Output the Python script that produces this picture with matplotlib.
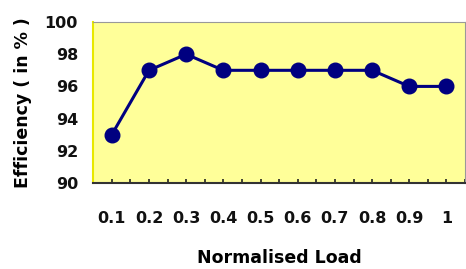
import matplotlib
matplotlib.use("Agg")
import matplotlib.pyplot as plt
import numpy as np

# data
loads = ["0.1", "0.2", "0.3", "0.4", "0.5", "0.6", "0.7", "0.8", "0.9", "1"]
efficiency = [93, 97, 98, 97, 97, 97, 97, 97, 96, 96]
y_ticks = [90, 92, 94, 96, 98, 100]

fig = plt.figure(figsize=(4.66, 2.69), dpi=100)
ax = fig.add_axes([0.2, 0.32, 0.798, 0.598])
ax.set_facecolor("#ffff99")

x = np.arange(len(loads))
ax.plot(x, efficiency, color="#000080", lw=2.2, marker="o", ms=10.5,
        markerfacecolor="#000080", markeredgecolor="#000080")

ax.set_xlim(-0.5, len(loads) - 0.5)
ax.set_ylim(90, 100)
ax.set_yticks(y_ticks)
ax.set_xticks(x)
ax.set_xticklabels(loads)
ax.set_xticks(np.arange(-0.5, len(loads)), minor=True)

ax.tick_params(axis="x", which="both", direction="in", length=3, width=1.2,
               color="#222222", pad=20)
ax.tick_params(axis="y", length=0, pad=11)
for lab in ax.get_xticklabels() + ax.get_yticklabels():
    lab.set_fontweight("bold")
    lab.set_fontsize(11.5)
    lab.set_color("#111111")

ax.spines["left"].set_color("#e8e800")
ax.spines["left"].set_linewidth(1.5)
ax.spines["bottom"].set_color("#333333")
ax.spines["bottom"].set_linewidth(1.5)
ax.spines["top"].set_color("#999999")
ax.spines["right"].set_color("#999999")

ax.set_xlabel("Normalised Load", fontsize=12.5, fontweight="bold", labelpad=17)
ax.set_ylabel("Efficiency ( in % )", fontsize=12.5, fontweight="bold", labelpad=9)

fig.savefig("out.png", dpi=100)
